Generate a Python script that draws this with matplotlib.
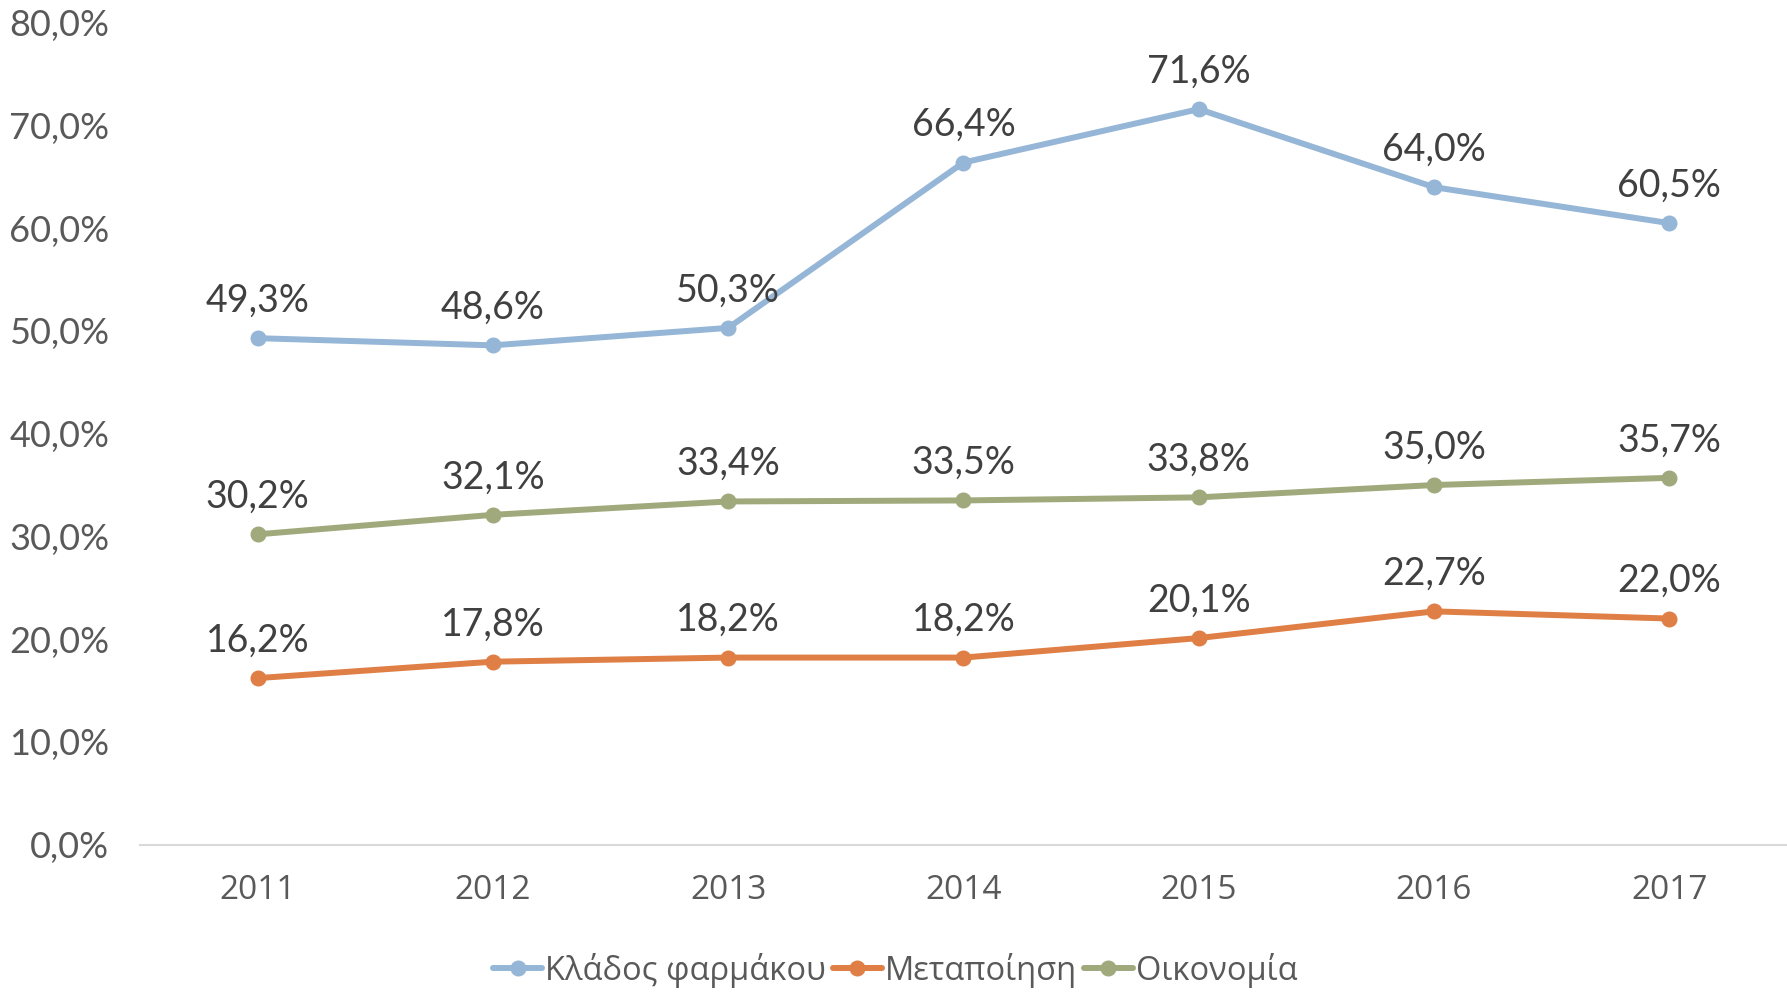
import matplotlib
matplotlib.use("Agg")
import matplotlib.pyplot as plt
from matplotlib.ticker import FuncFormatter

years = ["2011", "2012", "2013", "2014", "2015", "2016", "2017"]
pharma = [49.3, 48.6, 50.3, 66.4, 71.6, 64.0, 60.5]
manuf = [16.2, 17.8, 18.2, 18.2, 20.1, 22.7, 22.0]
economy = [30.2, 32.1, 33.4, 33.5, 33.8, 35.0, 35.7]
series_names = ["Κλάδος φαρμάκου", "Μεταποίηση", "Οικονομία"]
colors = ["#95B6D6", "#DF7E45", "#A0A97C"]

label_font = ["Lato", "DejaVu Sans"]
cat_font = ["Open Sans", "DejaVu Sans"]

fig = plt.figure(figsize=(17.87, 9.94), dpi=100)
ax = fig.add_axes([0.0783, 0.1504, 0.9217, 0.8266])

x = list(range(len(years)))
for vals, name, c in zip([pharma, manuf, economy], series_names, colors):
    ax.plot(x, vals, color=c, lw=4.3, marker="o", ms=10.5, label=name,
            solid_capstyle="round", zorder=3)
    for xi, v in zip(x, vals):
        ax.annotate(f"{v:.1f}%".replace(".", ","), (xi, v), xytext=(0, 19),
                    textcoords="offset points", ha="center", va="baseline",
                    fontsize=27, color="#404040", family=label_font, zorder=4)

ax.set_ylim(0, 80)
ax.set_xlim(-0.5, len(years) - 0.5)
ax.set_yticks(range(0, 81, 10))
ax.yaxis.set_major_formatter(FuncFormatter(lambda v, p: f"{v:.1f}%".replace(".", ",")))
ax.set_xticks(x)
ax.set_xticklabels(years)
for lab in ax.get_yticklabels():
    lab.set_family(label_font)
    lab.set_fontsize(26)
    lab.set_color("#595959")
for lab in ax.get_xticklabels():
    lab.set_family(cat_font)
    lab.set_fontsize(24)
    lab.set_color("#595959")
ax.tick_params(axis="both", length=0)
ax.tick_params(axis="y", pad=22)
ax.tick_params(axis="x", pad=21)
for s in ["top", "right", "left"]:
    ax.spines[s].set_visible(False)
ax.spines["bottom"].set_color("#D9D9D9")
ax.spines["bottom"].set_linewidth(1.5)

leg = fig.legend(loc="center", bbox_to_anchor=(0.501, 0.024), ncol=3, frameon=False,
                 prop={"family": cat_font, "size": 23.5}, handlelength=1.5,
                 handletextpad=0.1, columnspacing=0.2)
for t in leg.get_texts():
    t.set_color("#595959")

fig.savefig("out.png", dpi=100)
